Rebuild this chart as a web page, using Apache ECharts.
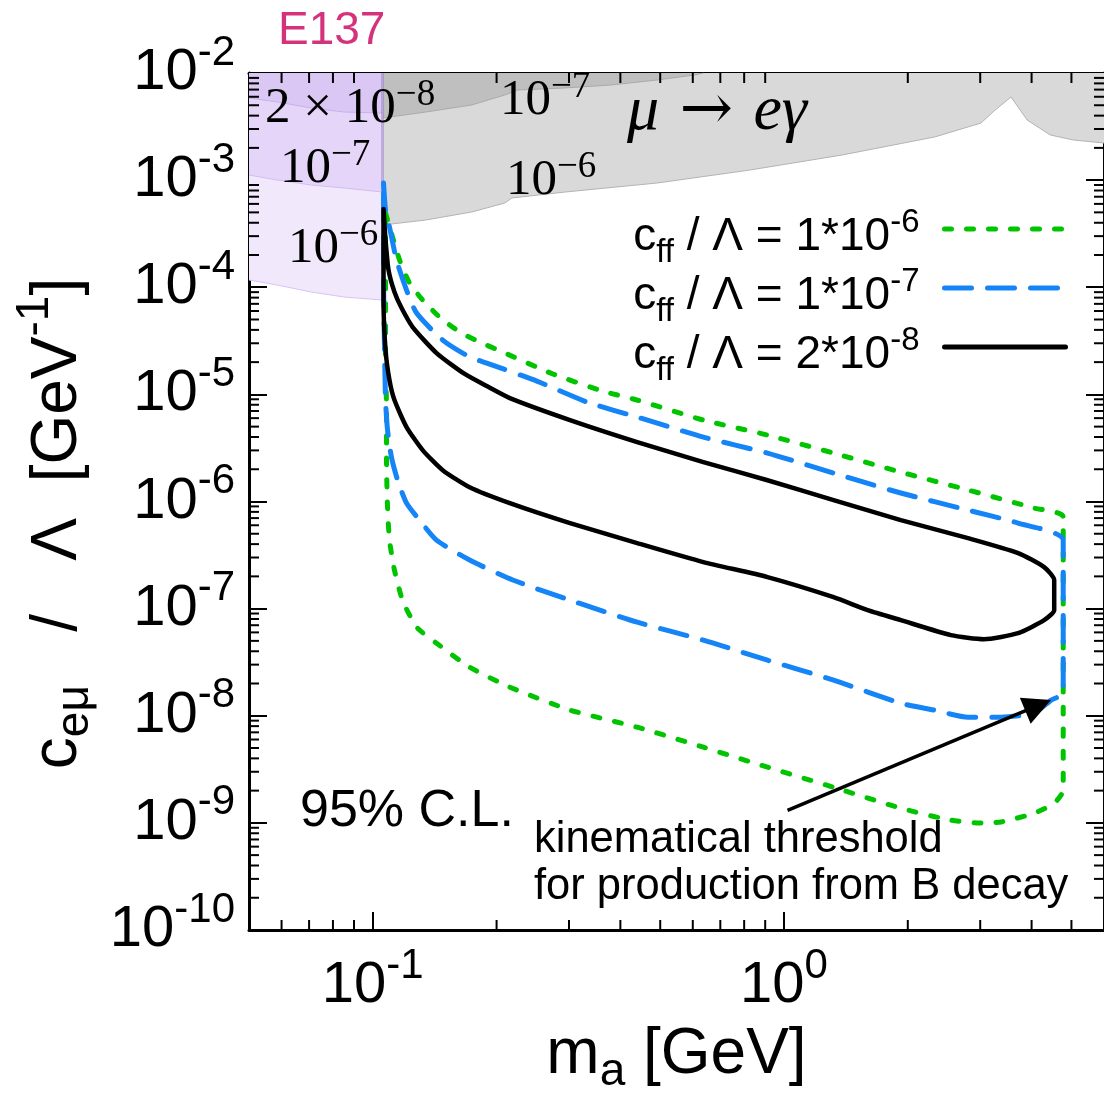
<!DOCTYPE html>
<html>
<head>
<meta charset="utf-8">
<script src="https://cdn.jsdelivr.net/npm/echarts@6/dist/echarts.min.js"></script>
<style>
  html, body { margin: 0; padding: 0; background: #fff; }
  #chart { width: 1104px; height: 1094px; }
</style>
</head>
<body>
<div id="chart"></div>
<script>
// Axis ranges: axion mass m_a [GeV] and coupling c_eμ/Λ [GeV^-1]
const X_MIN = 0.05, X_MAX = 6;
const Y_MIN = 1e-10, Y_MAX = 1e-2;

// Minor tick multipliers and the decades they belong to
const minorMult = [2, 3, 4, 5, 6, 7, 8, 9];
const xDecades = [0.01, 0.1, 1];
const yDecades = [1e-10, 1e-9, 1e-8, 1e-7, 1e-6, 1e-5, 1e-4, 1e-3];

// 95% C.L. sensitivity contours, one closed curve per c_ff/Λ value  [m_a, c_eμ/Λ]
const contourCff1e6 = [
  [0.1074, 4.93e-4], [0.1104, 3.42e-4], [0.1162, 1.79e-4], [0.1229, 1.09e-4],
  [0.1322, 7.60e-5], [0.1454, 5.27e-5], [0.1627, 3.82e-5], [0.1820, 3.08e-5],
  [0.2071, 2.48e-5], [0.2742, 1.55e-5], [0.3631, 1.07e-5], [0.4395, 8.85e-6],
  [0.6366, 5.76e-6], [0.9116, 4.17e-6], [1.320, 2.83e-6], [1.923, 1.88e-6],
  [2.802, 1.28e-6], [4.057, 8.68e-7], [4.775, 7.15e-7], [4.775, 2.02e-9],
  [4.540, 1.53e-9], [4.057, 1.23e-9], [3.371, 1.02e-9], [3.064, 9.94e-10],
  [2.546, 1.06e-9], [1.923, 1.37e-9], [1.320, 2.15e-9], [0.9116, 3.31e-9],
  [0.6366, 5.09e-9], [0.4395, 7.82e-9], [0.3017, 1.13e-8], [0.2154, 1.85e-8],
  [0.1720, 2.84e-8], [0.1429, 4.76e-8], [0.1278, 6.72e-8], [0.1181, 1.20e-7],
  [0.1129, 2.29e-7], [0.1098, 4.36e-7], [0.1086, 8.87e-7], [0.1080, 2.28e-6],
  [0.1080, 6.69e-6], [0.1074, 2.59e-5], [0.1074, 1.17e-4], [0.1074, 4.93e-4]
];
const contourCff1e7 = [
  [0.1062, 9.40e-4], [0.1074, 5.26e-4], [0.1098, 3.65e-4], [0.1142, 1.79e-4],
  [0.1208, 9.41e-5], [0.1278, 5.74e-5], [0.1479, 3.21e-5], [0.1720, 2.23e-5],
  [0.1893, 1.96e-5], [0.2506, 1.33e-5], [0.3319, 8.47e-6], [0.4395, 6.14e-6],
  [0.6366, 3.99e-6], [0.9116, 2.83e-6], [1.320, 1.84e-6], [1.923, 1.20e-6],
  [2.802, 8.31e-7], [3.709, 6.29e-7], [4.775, 4.36e-7], [4.775, 1.63e-8],
  [4.464, 1.40e-8], [4.057, 1.06e-8], [3.371, 9.70e-9], [2.802, 9.70e-9],
  [2.314, 1.13e-8], [1.923, 1.31e-8], [1.320, 2.15e-8], [0.9116, 3.30e-8],
  [0.6366, 5.08e-8], [0.4395, 7.48e-8], [0.3017, 1.20e-7], [0.2190, 1.85e-7],
  [0.1720, 2.84e-7], [0.1429, 4.36e-7], [0.1299, 6.70e-7], [0.1208, 9.66e-7],
  [0.1149, 1.58e-6], [0.1110, 2.60e-6], [0.1086, 4.64e-6], [0.1074, 8.85e-6],
  [0.1068, 2.59e-5], [0.1062, 1.17e-4], [0.1062, 9.40e-4]
];
const contourCff2e8 = [
  [0.1062, 5.37e-4], [0.1074, 2.76e-4], [0.1092, 1.45e-4], [0.1129, 9.02e-5],
  [0.1175, 6.39e-5], [0.1250, 4.25e-5], [0.1429, 2.43e-5], [0.1673, 1.55e-5],
  [0.1893, 1.195e-5], [0.2154, 9.24e-6], [0.3017, 5.76e-6], [0.4395, 3.59e-6],
  [0.6366, 2.33e-6], [0.9116, 1.58e-6], [1.320, 1.03e-6], [1.923, 6.70e-7],
  [2.802, 4.55e-7], [3.709, 3.30e-7], [4.291, 2.44e-7], [4.540, 1.85e-7],
  [4.540, 9.68e-8], [4.291, 7.81e-8], [3.709, 5.90e-8], [3.064, 5.19e-8],
  [2.546, 5.66e-8], [1.923, 7.81e-8], [1.598, 9.68e-8], [1.320, 1.28e-7],
  [0.9116, 1.97e-7], [0.6366, 2.72e-7], [0.4395, 4.09e-7], [0.3017, 6.29e-7],
  [0.2154, 9.66e-7], [0.1720, 1.36e-6], [0.1479, 1.96e-6], [0.1322, 3.02e-6],
  [0.1208, 4.95e-6], [0.1129, 8.85e-6], [0.1098, 1.36e-5], [0.1074, 2.59e-5],
  [0.1062, 7.60e-5], [0.1062, 5.37e-4]
];

// μ → eγ exclusion boundaries (excluded above the curve)
const muEGammaCff1e6 = [
  [0.1056, 3.81e-4], [0.1344, 4.24e-4], [0.1740, 5.04e-4], [0.2094, 6.11e-4],
  [0.2179, 6.81e-4], [0.2934, 7.74e-4], [0.4915, 9.40e-4], [0.824, 1.24e-3],
  [1.389, 1.72e-3], [2.327, 2.53e-3], [3.013, 3.41e-3], [3.261, 4.51e-3],
  [3.566, 5.97e-3], [3.901, 3.64e-3], [4.44, 2.64e-3], [5.05, 2.37e-3], [6.0, 2.22e-3]
];
const muEGammaCff1e7 = [
  [0.1056, 3.80e-3], [0.1344, 4.32e-3], [0.1740, 5.03e-3], [0.2094, 6.23e-3],
  [0.2253, 6.94e-3], [0.2934, 7.25e-3], [0.3797, 7.73e-3], [0.4915, 8.60e-3],
  [0.6049, 9.58e-3], [0.6366, 1.0e-2]
];

// E137 beam-dump exclusion boundaries below the muon mass
const e137Cff1e6 = [[0.05, 1.17e-4], [0.0586, 1.048e-4], [0.0709, 9.02e-5], [0.0853, 8.10e-5], [0.1056, 7.60e-5]];
const e137Cff1e7 = [[0.05, 1.116e-3], [0.0586, 1.002e-3], [0.0709, 9.00e-4], [0.0853, 8.44e-4], [0.1056, 7.74e-4]];
const e137Cff2e8 = [[0.05, 5.84e-3], [0.0586, 5.36e-3], [0.0709, 4.71e-3], [0.0853, 4.32e-3], [0.1056, 4.23e-3]];
const e137Edge = [[0.1056, 1.0e-2], [0.1056, 7.60e-5]];

// Arrow to the kinematical threshold (tail, head)
const thresholdArrow = [[1.020, 1.31e-9], [4.15, 1.25e-8]];

const SANS = '"Liberation Sans", Arial, Helvetica, sans-serif';
const SERIF = '"Liberation Serif", "Times New Roman", serif';

const GREEN = '#00c400';
const BLUE = '#1584f7';
const BLACK = '#000000';
const GREEN_DASH = [7, 15];
const BLUE_DASH = [27, 16];

const NAMES = ['cff_1e-6', 'cff_1e-7', 'cff_2e-8'];
const LEGEND_TEXT = {
  'cff_1e-6': '{b|c}{sub|ff}{b| / Λ = 1*10}{sup|-6}{gap| }',
  'cff_1e-7': '{b|c}{sub|ff}{b| / Λ = 1*10}{sup|-7}{gap| }',
  'cff_2e-8': '{b|c}{sub|ff}{b| / Λ = 2*10}{sup|-8}{gap| }'
};

const minorX = [];
xDecades.forEach(d => minorMult.forEach(m => {
  const v = +(m * d).toPrecision(6);
  if (v > X_MIN && v < X_MAX) minorX.push(v);
}));
const minorY = [];
yDecades.forEach(d => minorMult.forEach(m => minorY.push(+(m * d).toPrecision(6))));

function decadeLabel(v) {
  const e = Math.log10(v);
  const r = Math.round(e);
  if (Math.abs(e - r) > 1e-6) return '';
  return '{b|10}{s|' + r + '}';
}

// "10" is centred in a tall line, the exponent hangs from the top of that line
const TICK_RICH = {
  b: { fontFamily: SANS, fontSize: 58, lineHeight: 82, verticalAlign: 'middle', color: '#000' },
  s: { fontFamily: SANS, fontSize: 42, lineHeight: 42, verticalAlign: 'top', color: '#000' }
};
const NAME_RICH = {
  m: { fontFamily: SANS, fontSize: 64, lineHeight: 64, padding: [14, 0, 0, 0], verticalAlign: 'top', color: '#000' },
  mEnd: { fontFamily: SANS, fontSize: 64, lineHeight: 64, padding: [14, 44, 0, 0], verticalAlign: 'top', color: '#000' },
  sup: { fontFamily: SANS, fontSize: 46, lineHeight: 46, verticalAlign: 'top', color: '#000' },
  sub: { fontFamily: SANS, fontSize: 46, lineHeight: 46, padding: [40, 0, 0, 0], verticalAlign: 'top', color: '#000' }
};
const SERIF_RICH = {
  b: { fontFamily: SERIF, fontSize: 51, lineHeight: 65, verticalAlign: 'middle', fill: '#000' },
  s: { fontFamily: SERIF, fontSize: 37, lineHeight: 37, verticalAlign: 'top', fill: '#000' }
};

const frameLine = { show: true, onZero: false, lineStyle: { color: '#000', width: 3 } };
const majorTick = { show: true, inside: true, length: 18, lineStyle: { color: '#000', width: 2 } };

function fillSeries(data, color, edge) {
  return {
    type: 'line', data, symbol: 'none', silent: true, z: 1,
    lineStyle: { color: edge, width: 1 },
    areaStyle: { color, opacity: 1, origin: 'end' }
  };
}
function contourSeries(name, data, color, width, type) {
  return {
    type: 'line', name, data, symbol: 'none', smooth: 0.2, z: 3, silent: true,
    itemStyle: { color },
    lineStyle: { color, width, type, cap: 'round', join: 'round' }
  };
}
function minorTickSeries(values, isX) {
  return {
    type: 'custom', coordinateSystem: 'cartesian2d', silent: true, clip: false, z: 5,
    data: values.map(v => isX ? [v, Y_MIN] : [X_MIN, v]),
    encode: { x: 0, y: 1 },
    renderItem(params, api) {
      const L = 10;
      const st = { stroke: '#000', lineWidth: 2 };
      if (isX) {
        const v = api.value(0);
        const b = api.coord([v, Y_MIN]);
        const t = api.coord([v, Y_MAX]);
        return { type: 'group', children: [
          { type: 'line', shape: { x1: b[0], y1: b[1], x2: b[0], y2: b[1] - L }, style: st },
          { type: 'line', shape: { x1: t[0], y1: t[1], x2: t[0], y2: t[1] + L }, style: st }
        ] };
      }
      const v = api.value(1);
      const l = api.coord([X_MIN, v]);
      const r = api.coord([X_MAX, v]);
      return { type: 'group', children: [
        { type: 'line', shape: { x1: l[0], y1: l[1], x2: l[0] + L, y2: l[1] }, style: st },
        { type: 'line', shape: { x1: r[0], y1: r[1], x2: r[0] - L, y2: r[1] }, style: st }
      ] };
    }
  };
}

function serifLabel(x, y, text) {
  return { type: 'text', x, y, z: 20, style: { text, rich: SERIF_RICH, verticalAlign: 'middle', align: 'left', fill: '#000' } };
}
function plainLabel(x, y, text, size, color) {
  return { type: 'text', x, y, z: 20, style: { text, font: size + 'px ' + SANS, verticalAlign: 'middle', align: 'left', fill: color || '#000' } };
}

const hiddenMarker = { color: 'rgba(0,0,0,0)', opacity: 0, borderWidth: 0 };

const chart = echarts.init(document.getElementById('chart'), null, { renderer: 'canvas' });
chart.setOption({
  animation: false,
  backgroundColor: '#fff',
  grid: { left: 249, right: 0, top: 73, bottom: 164, containLabel: false, outerBoundsMode: 'none' },
  xAxis: [
    {
      type: 'log', min: X_MIN, max: X_MAX, position: 'bottom',
      axisLine: frameLine, axisTick: majorTick, minorTick: { show: false }, splitLine: { show: false },
      axisLabel: { margin: 15, formatter: decadeLabel, rich: TICK_RICH, showMinLabel: false, showMaxLabel: false },
      name: '{m|m}{sub|a}{m| [GeV]}', nameLocation: 'middle', nameGap: 79, nameMoveOverlap: false,
      nameTextStyle: { rich: NAME_RICH }
    },
    {
      type: 'log', min: X_MIN, max: X_MAX, position: 'top',
      axisLine: frameLine, axisTick: majorTick, minorTick: { show: false }, splitLine: { show: false },
      axisLabel: { show: false }
    }
  ],
  yAxis: [
    {
      type: 'log', min: Y_MIN, max: Y_MAX, position: 'left',
      axisLine: frameLine, axisTick: majorTick, minorTick: { show: false }, splitLine: { show: false },
      axisLabel: { margin: 14, formatter: decadeLabel, rich: TICK_RICH },
      name: '{m|c}{sub|eμ}{m|   /   Λ  [GeV}{sup|-1}{mEnd|]}', nameLocation: 'middle', nameRotate: 90, nameGap: 173,
      nameMoveOverlap: false,
      nameTextStyle: { rich: NAME_RICH }
    },
    {
      type: 'log', min: Y_MIN, max: Y_MAX, position: 'right',
      axisLine: frameLine, axisTick: majorTick, minorTick: { show: false }, splitLine: { show: false },
      axisLabel: { show: false }
    }
  ],
  legend: {
    data: [
      { name: NAMES[0], itemStyle: hiddenMarker, lineStyle: { color: GREEN, width: 5, type: GREEN_DASH, cap: 'round' } },
      { name: NAMES[1], itemStyle: hiddenMarker, lineStyle: { color: BLUE, width: 5, type: BLUE_DASH, cap: 'round' } },
      { name: NAMES[2], itemStyle: hiddenMarker, lineStyle: { color: BLACK, width: 5, type: 'solid', cap: 'round' } }
    ],
    orient: 'vertical', right: 36, top: 206, align: 'right', padding: 0,
    itemWidth: 121, itemHeight: 20, itemGap: -4, selectedMode: false,
    formatter: name => LEGEND_TEXT[name],
    textStyle: {
      color: '#000',
      rich: {
        b: { fontFamily: SANS, fontSize: 46, lineHeight: 46, padding: [8, 0, 0, 0], verticalAlign: 'top', color: '#000' },
        sup: { fontFamily: SANS, fontSize: 33, lineHeight: 33, verticalAlign: 'top', color: '#000' },
        sub: { fontFamily: SANS, fontSize: 33, lineHeight: 26, padding: [30, 0, 0, 0], verticalAlign: 'top', color: '#000' },
        gap: { width: 20, fontSize: 10 }
      }
    }
  },
  series: [
    fillSeries(muEGammaCff1e6, '#d9d9d9', '#b3b3b3'),
    fillSeries(muEGammaCff1e7, '#bfbfbf', '#aaaaaa'),
    fillSeries(e137Cff1e6, '#f1e8fc', '#d8c4f4'),
    fillSeries(e137Cff1e7, '#e5d6f9', '#d2bcf1'),
    fillSeries(e137Cff2e8, '#dac7f4', '#c9b0ef'),
    { type: 'line', data: e137Edge, symbol: 'none', silent: true, z: 2,
      lineStyle: { color: 'rgba(140,110,190,0.45)', width: 3 } },
    contourSeries(NAMES[0], contourCff1e6, GREEN, 5, GREEN_DASH),
    contourSeries(NAMES[1], contourCff1e7, BLUE, 5, BLUE_DASH),
    contourSeries(NAMES[2], contourCff2e8, BLACK, 4.5, 'solid'),
    {
      type: 'lines', coordinateSystem: 'cartesian2d', silent: true, z: 4,
      symbol: ['none', 'triangle'], symbolSize: [22, 28],
      lineStyle: { color: '#000', width: 3.5, opacity: 1 },
      itemStyle: { color: '#000' },
      data: [{ coords: thresholdArrow }]
    },
    minorTickSeries(minorX, true),
    minorTickSeries(minorY, false)
  ],
  graphic: [
    plainLabel(278, 31, 'E137', 46, '#d4337c'),
    serifLabel(265, 109, '{b|2 × 10}{s|−8}'),
    serifLabel(280, 169, '{b|10}{s|−7}'),
    serifLabel(288, 249, '{b|10}{s|−6}'),
    serifLabel(500, 101, '{b|10}{s|−7}'),
    serifLabel(506, 181, '{b|10}{s|−6}'),
    { type: 'text', x: 627, y: 112, z: 20, style: {
        text: '{i|μ}{r| → }{i|eγ}', verticalAlign: 'middle', align: 'left',
        rich: {
          i: { fontFamily: SERIF, fontStyle: 'italic', fontSize: 64, fill: '#000' },
          r: { fontFamily: '"DejaVu Serif", serif', fontSize: 64, fill: '#000' }
        } } },
    plainLabel(300, 812, '95% C.L.', 52),
    plainLabel(534, 840, 'kinematical threshold', 43.5),
    plainLabel(534, 887, 'for production from B decay', 43.5)
  ]
});
</script>
</body>
</html>
